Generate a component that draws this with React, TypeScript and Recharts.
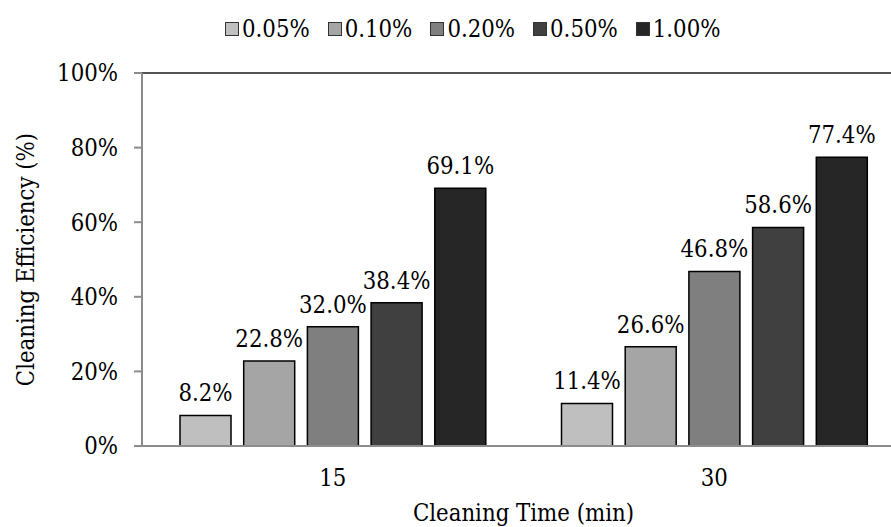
import React from 'react';
import { BarChart, Bar, XAxis, YAxis, Legend, LabelList, Label, ReferenceLine } from 'recharts';

// Cleaning time categories (minutes)
const times = ['15', '30'];
// Cleaning agent concentrations (series names)
const concentrations = ['0.05%', '0.10%', '0.20%', '0.50%', '1.00%'];
// Cleaning efficiency (%) per concentration, one value per cleaning time
const eff005 = [8.2, 11.4];
const eff010 = [22.8, 26.6];
const eff020 = [32.0, 46.8];
const eff050 = [38.4, 58.6];
const eff100 = [69.1, 77.4];
const yTicks = [0, 20, 40, 60, 80, 100];

const seriesValues = [eff005, eff010, eff020, eff050, eff100];
const fills = ['#bfbfbf', '#a5a5a5', '#7f7f7f', '#404040', '#262626'];
const keys = ['c005', 'c010', 'c020', 'c050', 'c100'];

const data = times.map((t, i) => {
  const row: Record<string, string | number> = { time: t };
  keys.forEach((k, s) => {
    row[k] = seriesValues[s][i];
  });
  return row;
});

const FONT = '"DejaVu Serif Condensed", "DejaVu Serif", serif';
const FS = 23.7;
const AXIS_GREY = '#8c8c8c';
const textStyle = { fill: '#000', fontSize: FS, fontFamily: FONT, fontStretch: 'condensed' } as any;

const renderLegend = (props: any) => {
  const { payload } = props;
  return (
    <div style={{ display: 'flex', alignItems: 'center', fontFamily: FONT, fontStretch: 'condensed' }}>
      {(payload || []).map((entry: any, i: number) => (
        <div key={entry.value} style={{ display: 'flex', alignItems: 'center', marginRight: i < payload.length - 1 ? 18 : 0 }}>
          <span
            style={{
              display: 'inline-block',
              width: 14,
              height: 14,
              boxSizing: 'border-box',
              background: fills[i],
              border: '1.5px solid #333',
              marginRight: 3,
            }}
          />
          <span style={{ fontSize: FS, lineHeight: '26px', color: '#000' }}>{entry.value}</span>
        </div>
      ))}
    </div>
  );
};

const pct = (v: any) => `${Number(v).toFixed(1)}%`;

export default function App() {
  return (
    <div
      style={{
        position: 'absolute',
        left: 0,
        top: 0,
        width: 891,
        height: 527,
        overflow: 'hidden',
        background: '#fff',
        fontFamily: FONT,
        fontStretch: 'condensed',
        fontSize: FS,
      }}
    >
      <BarChart
        width={920}
        height={527}
        data={data}
        margin={{ top: 73, right: 15, bottom: 0, left: 0 }}
        barSize={51}
        barGap={12.7}
        style={{ fontFamily: FONT }}
      >
        <XAxis
          dataKey="time"
          height={81}
          axisLine={{ stroke: AXIS_GREY, strokeWidth: 2 }}
          tickLine={false}
          tickSize={0}
          tickMargin={23}
          tick={textStyle}
        >
          <Label value="Cleaning Time (min)" position="insideBottom" offset={6} style={textStyle} />
        </XAxis>
        <YAxis
          width={142}
          domain={[0, 100]}
          ticks={yTicks}
          interval={0}
          tickFormatter={(v: number) => `${v}%`}
          axisLine={{ stroke: AXIS_GREY, strokeWidth: 2 }}
          tickLine={{ stroke: AXIS_GREY, strokeWidth: 2 }}
          tickSize={8}
          tickMargin={16}
          tick={textStyle}
        >
          <Label
            value="Cleaning Efficiency (%)"
            angle={-90}
            position="insideLeft"
            offset={26}
            style={{ ...textStyle, textAnchor: 'middle' }}
          />
        </YAxis>
        <ReferenceLine y={100} stroke="#1a1a1a" strokeWidth={1.5} />
        <Legend
          layout="horizontal"
          verticalAlign="middle"
          align="center"
          content={renderLegend}
          wrapperStyle={{ top: 16, left: 225, width: 'auto' }}
        />
        {keys.map((k, s) => (
          <Bar
            key={k}
            dataKey={k}
            name={concentrations[s]}
            fill={fills[s]}
            stroke="#000"
            strokeWidth={1.5}
            isAnimationActive={false}
          >
            <LabelList dataKey={k} position="top" offset={14} formatter={pct} style={textStyle} />
          </Bar>
        ))}
      </BarChart>
    </div>
  );
}
